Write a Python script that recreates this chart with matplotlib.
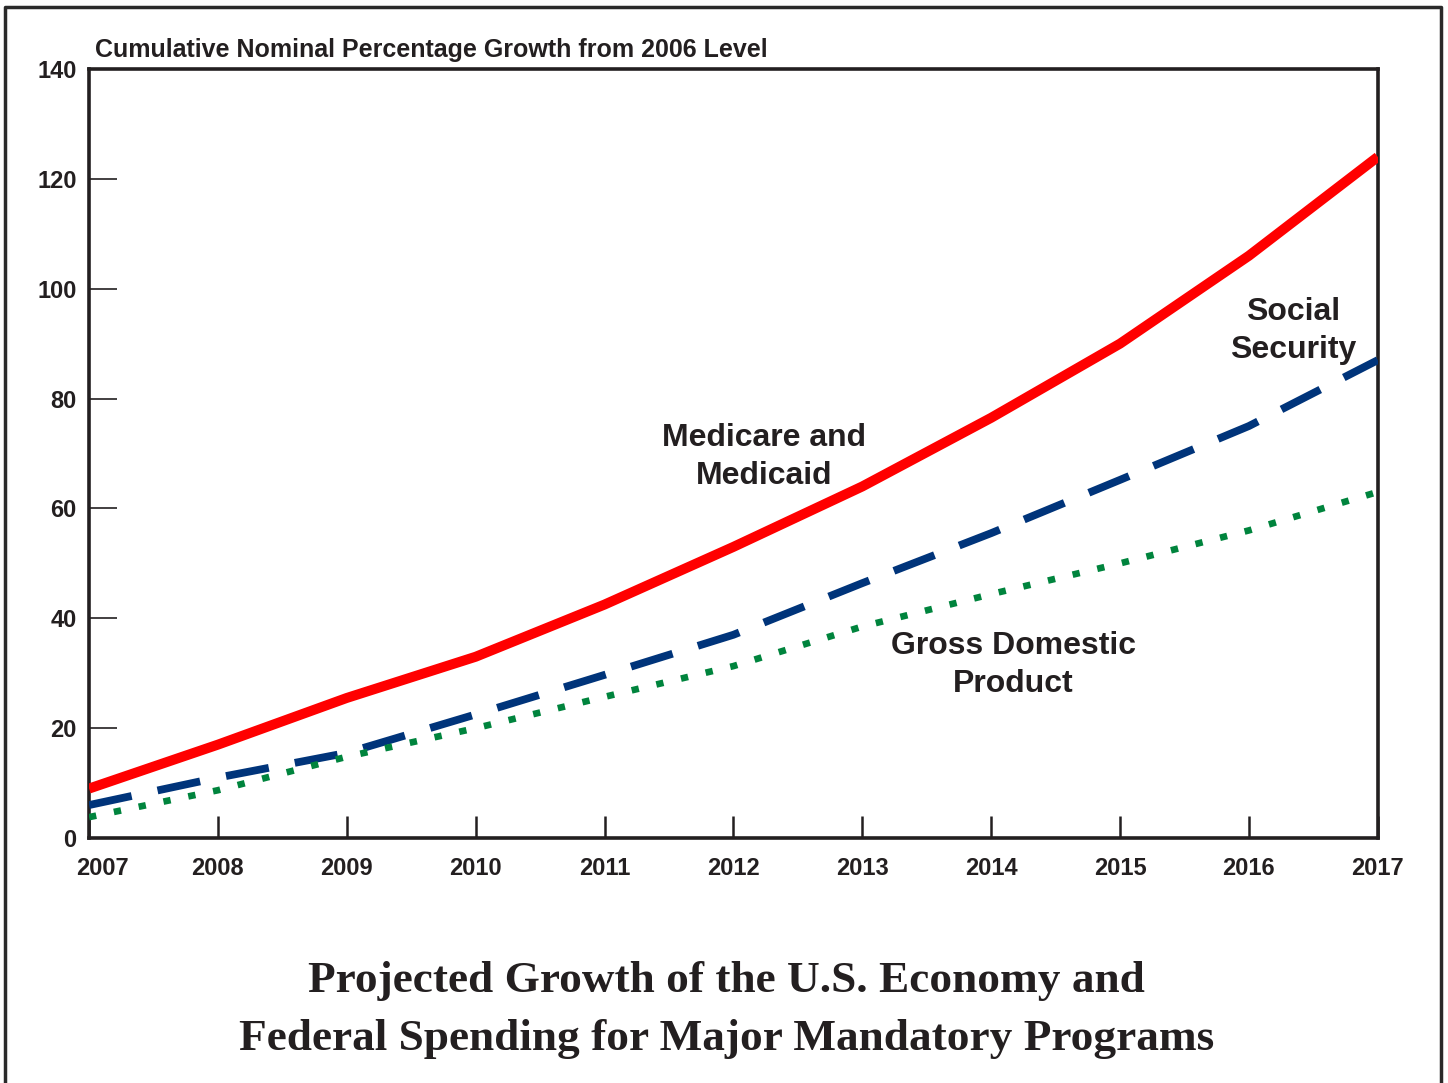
import numpy as np
import matplotlib
matplotlib.use("Agg")
from matplotlib import pyplot as plt
from matplotlib.lines import Line2D
import matplotlib.transforms as mtransforms

years = [2007, 2008, 2009, 2010, 2011, 2012, 2013, 2014, 2015, 2016, 2017]
medicare = [9, 17, 25.5, 33, 42.5, 53, 64, 76.5, 90, 106, 124]
social_security = [6, 11, 15.5, 22.5, 29.7, 37, 46.4, 55.5, 65.2, 75, 87]
gdp = [3.8, 8.7, 14.8, 20, 25.7, 31.3, 38.5, 44.4, 50, 56, 63]
yticks = [0, 20, 40, 60, 80, 100, 120, 140]

ink = '#231f20'
sans = ['Liberation Sans', 'DejaVu Sans']
serif = ['Liberation Serif', 'DejaVu Serif']

fig = plt.figure(figsize=(14.48, 10.83), dpi=100)
ax = fig.add_axes([0.0615, 0.2262, 0.890, 0.7101])

ax.plot(years, medicare, color='#ff0000', lw=7.2, solid_capstyle='butt', solid_joinstyle='round', zorder=3)
ax.plot(years, social_security, color='#00347a', lw=5.6, dashes=(5.6, 3.4), dash_capstyle='butt', zorder=3)
ax.plot(years, gdp, color='#00843d', lw=4.8, dashes=(1.1, 2.7), dash_capstyle='butt', zorder=3)

ax.set_xlim(2007, 2017)
ax.set_ylim(0, 140)
ax.set_xticks(years)
ax.set_yticks(yticks)
ax.set_xticklabels([str(y) for y in years], fontfamily=sans, fontweight='bold', fontsize=17, color=ink)
ax.set_yticklabels([str(v) for v in yticks], fontfamily=sans, fontweight='bold', fontsize=17, color=ink)
ax.tick_params(axis='x', direction='in', length=16, width=1.8, color=ink, pad=14)
ax.tick_params(axis='y', direction='in', length=20, width=1.2, color=ink, pad=9)
for s in ax.spines.values():
    s.set_linewidth(2.6)
    s.set_color(ink)

# first year label sits a little right of the spine
first = ax.get_xticklabels()[0]
first.set_transform(first.get_transform() + mtransforms.ScaledTranslation(0.13, 0, fig.dpi_scale_trans))

ax.text(0.005, 1.016, 'Cumulative Nominal Percentage Growth from 2006 Level', transform=ax.transAxes,
        fontfamily=sans, fontweight='bold', fontsize=18, color=ink, ha='left', va='baseline')

lbl = dict(fontfamily=sans, fontweight='bold', fontsize=23, color=ink, ha='center', va='center',
           linespacing=1.35)
ax.text(2012.24, 69.4, 'Medicare and\nMedicaid', **lbl)
ax.text(2016.34, 92.3, 'Social\nSecurity', **lbl)
ax.text(2014.17, 31.5, 'Gross Domestic\nProduct', **lbl)

fig.text(0.5015, 0.067, 'Projected Growth of the U.S. Economy and\nFederal Spending for Major Mandatory Programs',
         fontfamily=serif, fontweight='bold', fontsize=32.6, color=ink, ha='center', va='center',
         linespacing=1.58)

# outer frame, open at the bottom
fx = [5 / 1448, 5 / 1448, 1441 / 1448, 1441 / 1448]
fy = [0, 1 - 7 / 1083, 1 - 7 / 1083, 0]
fig.add_artist(Line2D(fx, fy, transform=fig.transFigure, color='#2a2a2a', lw=2.5))

fig.savefig('out.png', dpi=100)
